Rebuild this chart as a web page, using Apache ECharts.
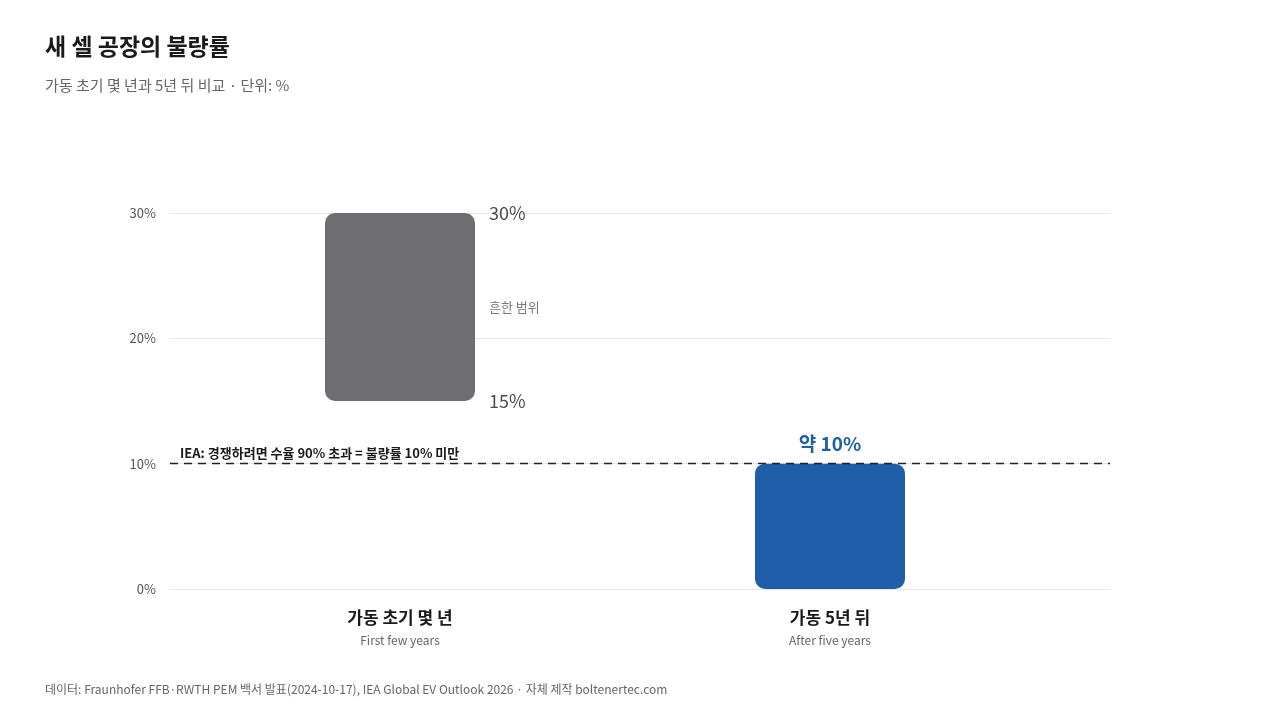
<!DOCTYPE html><html><head><meta charset="utf-8"><script src="https://cdn.jsdelivr.net/npm/echarts@6/dist/echarts.min.js"></script>
<style>body{margin:0}#c{width:1280px;height:720px}</style></head><body><div id="c"></div><script>
const categories=['가동 초기 몇 년','가동 5년 뒤'];
const categoriesEn=['First few years','After five years'];
const rangeLow=[15,'-'];
const rangeHigh=[30,'-'];
const afterValue=['-',10];
const threshold=10;
const yTicks=[0,10,20,30];
const F='"Noto Sans CJK KR","Noto Sans",sans-serif';
const c=echarts.init(document.getElementById('c'));
c.setOption({
 textStyle:{fontFamily:F},
 title:[{text:'새 셀 공장의 불량률',left:40,top:30,textStyle:{fontSize:23,fontWeight:'bold',color:'#1a1a1a',fontFamily:F}},
  {text:'가동 초기 몇 년과 5년 뒤 비교 · 단위: %',left:40,top:73,textStyle:{fontSize:15,color:'#666',fontWeight:'normal',fontFamily:F}},
  {text:'데이터: Fraunhofer FFB·RWTH PEM 백서 발표(2024-10-17), IEA Global EV Outlook 2026 · 자체 제작 boltenertec.com',left:40,top:678,textStyle:{fontSize:12,color:'#666',fontWeight:'normal',fontFamily:F}}],
 grid:[{left:185,right:235,top:213,bottom:131},{left:170,right:170,top:213,bottom:131}],
 xAxis:[{type:'category',gridIndex:0,data:categories,axisLine:{show:false},axisTick:{show:false},
   axisLabel:{margin:16,formatter:(v,i)=>'{a|'+v+'}\n{b|'+categoriesEn[i]+'}',rich:{a:{fontSize:17,fontWeight:'bold',color:'#1a1a1a',lineHeight:26,fontFamily:F},b:{fontSize:12,color:'#666',lineHeight:18,fontFamily:F}}}},
  {type:'value',gridIndex:1,show:false,min:0,max:1}],
 yAxis:[{type:'value',gridIndex:0,min:0,max:30,interval:10,show:false},
  {type:'value',gridIndex:1,min:0,max:30,interval:10,axisLine:{show:false},axisTick:{show:false},
   splitLine:{lineStyle:{color:'#e6e6e6'}},axisLabel:{formatter:v=>yTicks.includes(v)?v+'%':'',color:'#555',fontSize:13,margin:14}}],
 series:[
  {type:'bar',stack:'r',data:rangeLow,barWidth:150,itemStyle:{color:'transparent'},silent:true},
  {type:'bar',stack:'r',data:rangeHigh.map((v,i)=>v==='-'?'-':v-rangeLow[i]),itemStyle:{color:'#6e6d72',borderRadius:10}},
  {type:'bar',stack:'r',data:afterValue,itemStyle:{color:'#1f5faa',borderRadius:10},
   label:{show:true,position:'top',distance:10,formatter:p=>'약 '+p.value+'%',color:'#1f5faa',fontSize:19,fontWeight:'bold'}},
  {type:'scatter',symbolSize:0,data:[[0,rangeHigh[0]],[0,rangeLow[0]]],label:{show:true,position:'right',distance:89,formatter:p=>p.value[1]+'%',color:'#1a1a1a',fontSize:18}},
  {type:'scatter',symbolSize:0,data:[[0,(rangeHigh[0]+rangeLow[0])/2]],label:{show:true,position:'right',distance:89,formatter:'흔한 범위',color:'#555',fontSize:13}},
  {type:'line',xAxisIndex:1,yAxisIndex:1,data:[],markLine:{symbol:'none',silent:true,data:[{yAxis:threshold}],
   lineStyle:{type:[8,6],color:'#222',width:1.3},label:{position:'insideStartTop',formatter:'IEA: 경쟁하려면 수율 90% 초과 = 불량률 10% 미만',color:'#1a1a1a',fontSize:13,fontWeight:'bold',distance:[10,4]}}}
 ]});
</script></body></html>
